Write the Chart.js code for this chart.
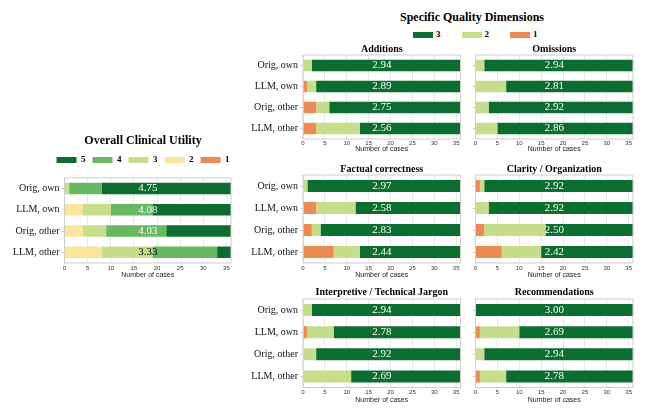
<!DOCTYPE html>
<html>
<head>
<meta charset="utf-8">
<script src="https://cdn.jsdelivr.net/npm/chart.js@4.4.1/dist/chart.umd.min.js"></script>
<style>
  html, body { margin: 0; padding: 0; background: #fff; }
  body { width: 646px; height: 408px; position: relative; overflow: hidden; }
  canvas { position: absolute; }
  #sqdHead {
    position: absolute; left: 372px; width: 200px; top: 11px;
    font: bold 12px/12px "Liberation Serif", "Times New Roman", serif;
    text-align: center; color: #000; white-space: nowrap;
  }
  .lg-box { position: absolute; width: 20px; height: 6px; top: 31.5px; }
  .lg-txt { position: absolute; top: 30px; font: bold 9px/9px "Liberation Serif", "Times New Roman", serif; color: #000; }
</style>
</head>
<body>
<div id="sqdHead">Specific Quality Dimensions</div>
<script>
// ---- data ----
const cases = ['Orig, own', 'LLM, own', 'Orig, other', 'LLM, other'];
const caseTicks = [0, 5, 10, 15, 20, 25, 30, 35];
const maxCases = 36;

// Overall clinical utility: number of cases per score 1..5
const utility1 = [0, 0, 0, 0];
const utility2 = [0, 4, 4, 8];
const utility3 = [1, 6, 5, 11];
const utility4 = [7, 9, 13, 14];
const utility5 = [28, 17, 14, 3];
const utilityMean = [4.75, 4.08, 4.03, 3.33];

// Specific quality dimensions: number of cases per score 1..3
const additions1 = [0, 1, 3, 3];
const additions2 = [2, 2, 3, 10];
const additions3 = [34, 33, 30, 23];
const additionsMean = [2.94, 2.89, 2.75, 2.56];

const omissions1 = [0, 0, 0, 0];
const omissions2 = [2, 7, 3, 5];
const omissions3 = [34, 29, 33, 31];
const omissionsMean = [2.94, 2.81, 2.92, 2.86];

const factual1 = [0, 3, 2, 7];
const factual2 = [1, 9, 2, 6];
const factual3 = [35, 24, 32, 23];
const factualMean = [2.97, 2.58, 2.83, 2.44];

const clarity1 = [1, 0, 2, 6];
const clarity2 = [1, 3, 14, 9];
const clarity3 = [34, 33, 20, 21];
const clarityMean = [2.92, 2.92, 2.50, 2.42];

const jargon1 = [0, 1, 0, 0];
const jargon2 = [2, 6, 3, 11];
const jargon3 = [34, 29, 33, 25];
const jargonMean = [2.94, 2.78, 2.92, 2.69];

const recommend1 = [0, 1, 0, 1];
const recommend2 = [0, 9, 2, 6];
const recommend3 = [36, 26, 34, 29];
const recommendMean = [3.00, 2.69, 2.94, 2.78];

// ---- styling ----
const SERIF = '"Liberation Serif", "Times New Roman", serif';
const SANS = '"Liberation Sans", Arial, sans-serif';
const DARK = '#0b6e30';
const MID = '#67b861';
const LIGHT = '#c6dd8b';
const YELLOW = '#fbe59b';
const ORANGE = '#ee8a51';
const BAR = 0.54;

Chart.defaults.animation = false;
Chart.defaults.font.family = SANS;

// shared legend for the specific dimensions
const sqdLevels = ['3', '2', '1'];
const sqdColors = [DARK, LIGHT, ORANGE];
sqdLevels.forEach((lvl, i) => {
  const left = 413 + i * 48.5;
  const b = document.createElement('div');
  b.className = 'lg-box'; b.style.left = left + 'px'; b.style.background = sqdColors[i];
  const t = document.createElement('div');
  t.className = 'lg-txt'; t.style.left = (left + 23) + 'px'; t.textContent = lvl;
  document.body.appendChild(b); document.body.appendChild(t);
});

// light frame around each plot area
const frame = {
  id: 'frame',
  afterDatasetsDraw(chart) {
    const { left, top, right, bottom } = chart.chartArea;
    const ctx = chart.ctx;
    ctx.save();
    ctx.strokeStyle = '#cdcdcd';
    ctx.lineWidth = 1;
    ctx.strokeRect(left, top, right - left, bottom - top);
    ctx.restore();
  }
};

// mean score written across the middle of every bar
const meanLabels = {
  id: 'meanLabels',
  afterDatasetsDraw(chart, args, opts) {
    const means = opts.values;
    if (!means) return;
    const xs = chart.scales.x;
    const mid = (xs.min + xs.max) / 2;
    const xPix = xs.getPixelForValue(mid);
    const ctx = chart.ctx;
    ctx.save();
    ctx.font = '11px ' + SERIF;
    ctx.textAlign = 'center';
    ctx.textBaseline = 'middle';
    means.forEach((m, i) => {
      let acc = 0, color = '#fff';
      for (const ds of chart.data.datasets) {
        acc += ds.data[i];
        if (acc > mid) { color = ds.labelColor; break; }
      }
      const bar = chart.getDatasetMeta(0).data[i];
      ctx.fillStyle = color;
      ctx.fillText(m.toFixed(2), xPix, bar.y);
    });
    ctx.restore();
  }
};

// extra space between the legend and the plot
const legendGap = {
  id: 'legendGap',
  beforeInit(chart, args, opts) {
    const lg = chart.legend;
    if (!lg || !opts.gap) return;
    const fit = lg.fit;
    lg.fit = function () { fit.call(this); this.height += opts.gap; };
  }
};

function panel(cfg) {
  const cv = document.createElement('canvas');
  cv.width = cfg.w; cv.height = cfg.h;
  cv.style.left = cfg.x + 'px'; cv.style.top = cfg.y + 'px';
  cv.style.width = cfg.w + 'px'; cv.style.height = cfg.h + 'px';
  document.body.appendChild(cv);

  const datasets = cfg.series.map(s => ({
    label: s.label, data: s.data, backgroundColor: s.color, labelColor: s.text,
    borderWidth: 0, categoryPercentage: 1, barPercentage: BAR
  }));

  const scales = {
    x: {
      type: 'linear', stacked: true, min: 0, max: maxCases,
      afterBuildTicks: s => { s.ticks = caseTicks.map(v => ({ value: v })); },
      grid: { color: '#e8e8e8', lineWidth: 1, drawTicks: false },
      border: { display: false },
      ticks: { font: { family: SANS, size: 6 }, color: '#333', padding: cfg.tickPad, maxRotation: 0, autoSkip: false },
      title: { display: true, text: 'Number of cases', color: '#222',
               font: { family: SANS, size: 7, lineHeight: 1 }, padding: { top: 0, bottom: 0 } },
      afterFit: s => { s.height = cfg.xh; }
    },
    y: {
      type: 'category', stacked: true, offset: true,
      grid: { drawOnChartArea: false, drawTicks: true, tickLength: 2.5, color: '#c4c4c4', offset: false },
      border: { display: false },
      ticks: { display: cfg.yLabels, font: { family: SERIF, size: 10 }, color: '#111', padding: 2.5 },
      afterFit: s => { s.width = cfg.yw; }
    }
  };
  if (cfg.rightPad) {
    scales.spacer = {
      type: 'linear', position: 'right', display: true,
      grid: { display: false }, border: { display: false }, ticks: { display: false },
      afterFit: s => { s.width = cfg.rightPad; }
    };
  }

  return new Chart(cv, {
    type: 'bar',
    data: { labels: cases, datasets },
    options: {
      indexAxis: 'y',
      responsive: false,
      devicePixelRatio: 1,
      animation: false,
      layout: { padding: { left: 0, right: cfg.padR || 0, top: 0, bottom: 0 } },
      scales,
      plugins: {
        tooltip: { enabled: false },
        title: {
          display: true, text: cfg.title, color: '#000', fullSize: !!cfg.legend,
          font: { family: SERIF, size: cfg.titleSize, weight: 'bold', lineHeight: cfg.titleLH },
          padding: { top: 0, bottom: cfg.titlePadB || 0 }
        },
        legend: cfg.legend ? {
          display: true, reverse: true, fullSize: true,
          labels: { boxWidth: 20, boxHeight: 6, padding: 7, color: '#000',
                    font: { family: SERIF, size: 9, weight: 'bold' } }
        } : { display: false },
        legendGap: { gap: cfg.legendGap || 0 },
        meanLabels: { values: cfg.means }
      }
    },
    plugins: [frame, meanLabels, legendGap]
  });
}

function specific(a1, a2, a3) {
  return [
    { label: '1', data: a1, color: ORANGE, text: '#000' },
    { label: '2', data: a2, color: LIGHT, text: '#000' },
    { label: '3', data: a3, color: DARK, text: '#fff' }
  ];
}

// Overall clinical utility
panel({
  x: 0, y: 134, w: 286, h: 145, yw: 64.5, rightPad: 55, xh: 16, tickPad: 1.5,
  yLabels: true, title: 'Overall Clinical Utility', titleSize: 12, titleLH: 1.2,
  legend: true, legendGap: 3.5, means: utilityMean,
  series: [
    { label: '1', data: utility1, color: ORANGE, text: '#000' },
    { label: '2', data: utility2, color: YELLOW, text: '#000' },
    { label: '3', data: utility3, color: LIGHT, text: '#000' },
    { label: '4', data: utility4, color: MID, text: '#fff' },
    { label: '5', data: utility5, color: DARK, text: '#fff' }
  ]
});

// rows of the specific-dimension grid
const rows = [
  { y: 44, h: 109, xh: 14, padB: 0, tickPad: 1 },
  { y: 164, h: 115, xh: 16, padB: 0, tickPad: 1.5 },
  { y: 287, h: 117, xh: 16.5, padB: 1, tickPad: 1.5 }
];
const cols = [
  { x: 250, w: 214, yw: 53, padR: 3.5, yLabels: true },
  { x: 464, w: 172, yw: 11.5, padR: 3, yLabels: false }
];
const grid = [
  ['Additions', additions1, additions2, additions3, additionsMean, 0, 0],
  ['Omissions', omissions1, omissions2, omissions3, omissionsMean, 0, 1],
  ['Factual correctness', factual1, factual2, factual3, factualMean, 1, 0],
  ['Clarity / Organization', clarity1, clarity2, clarity3, clarityMean, 1, 1],
  ['Interpretive / Technical Jargon', jargon1, jargon2, jargon3, jargonMean, 2, 0],
  ['Recommendations', recommend1, recommend2, recommend3, recommendMean, 2, 1]
];
grid.forEach(([title, s1, s2, s3, means, r, c]) => {
  const row = rows[r], col = cols[c];
  panel({
    x: col.x, y: row.y, w: col.w, h: row.h, yw: col.yw, padR: col.padR, xh: row.xh,
    tickPad: row.tickPad, yLabels: col.yLabels, title, titleSize: 10, titleLH: 1.1,
    titlePadB: row.padB, means, series: specific(s1, s2, s3)
  });
});
</script>
</body>
</html>
